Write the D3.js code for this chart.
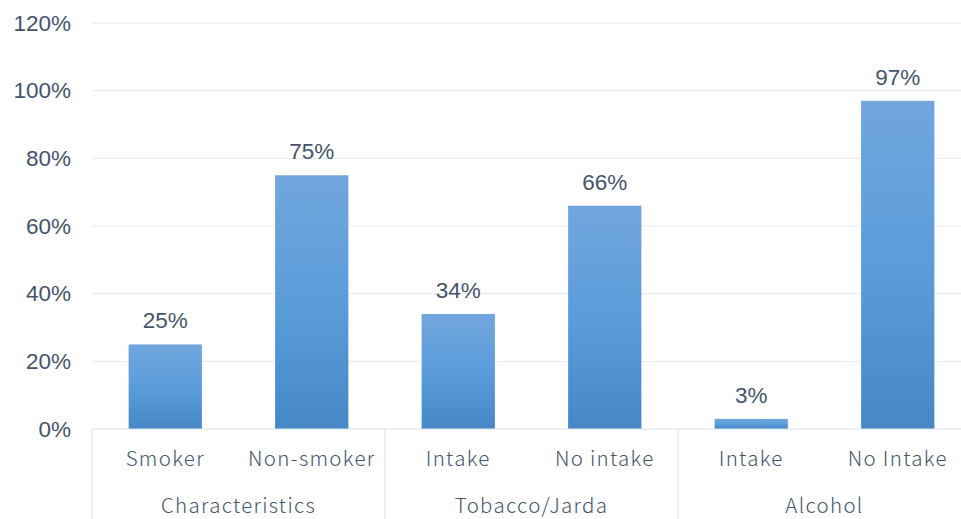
<!DOCTYPE html>
<html>
<head>
<meta charset="utf-8">
<script src="https://cdn.jsdelivr.net/npm/d3@7"></script>
<style>
  body { margin: 0; background: #fff; }
  svg { display: block; }
</style>
</head>
<body>
<div id="chart"></div>
<script>
// chart data
const categories = ["Smoker", "Non-smoker", "Intake", "No intake", "Intake", "No Intake"];
const groups = ["Characteristics", "Tobacco/Jarda", "Alcohol"];
const groupOf = [0, 0, 1, 1, 2, 2];
const values = [25, 75, 34, 66, 3, 97];
const yTicks = [0, 20, 40, 60, 80, 100, 120];

const width = 961, height = 519;
const margin = {top: 23, right: -10, bottom: 90, left: 92};
const innerW = width - margin.left - margin.right;
const innerH = height - margin.top - margin.bottom;

const numFont = "'Liberation Sans', Arial, sans-serif";
const catFont = "'Noto Sans CJK JP', 'Noto Sans', sans-serif";
const textColor = "#44546a";

const svg = d3.select("#chart").append("svg")
    .attr("width", width)
    .attr("height", height);

// bar gradient
const grad = svg.append("defs").append("linearGradient")
    .attr("id", "barGrad")
    .attr("x1", 0).attr("y1", 0).attr("x2", 0).attr("y2", 1);
grad.append("stop").attr("offset", "0%").attr("stop-color", "#71a6dd");
grad.append("stop").attr("offset", "50%").attr("stop-color", "#5b9cdb");
grad.append("stop").attr("offset", "100%").attr("stop-color", "#4687c8");

const g = svg.append("g")
    .attr("transform", `translate(${margin.left},${margin.top})`);

const idx = categories.map((c, i) => i);
const x = d3.scaleBand()
    .domain(idx)
    .range([0, innerW])
    .paddingInner(0.5)
    .paddingOuter(0.25);

const y = d3.scaleLinear()
    .domain([0, 120])
    .range([innerH, 0]);

// gridlines
g.append("g")
    .selectAll("line")
    .data(yTicks.filter(t => t > 0))
    .join("line")
    .attr("x1", 0).attr("x2", innerW)
    .attr("y1", d => y(d)).attr("y2", d => y(d))
    .attr("stroke", "#e6eaee")
    .attr("stroke-width", 1);

// y axis labels
const yAxis = d3.axisLeft(y)
    .tickValues(yTicks)
    .tickFormat(d => d + "%")
    .tickSize(0)
    .tickPadding(21);
g.append("g")
    .call(yAxis)
    .call(s => s.select(".domain").remove())
    .selectAll("text")
    .attr("font-family", numFont)
    .attr("font-size", 22.5)
    .attr("fill", textColor);

// bars
g.selectAll("rect.bar")
    .data(values)
    .join("rect")
    .attr("class", "bar")
    .attr("x", (d, i) => x(i))
    .attr("width", x.bandwidth())
    .attr("y", d => y(d))
    .attr("height", d => innerH - y(d))
    .attr("fill", "url(#barGrad)");

// value labels
g.selectAll("text.val")
    .data(values)
    .join("text")
    .attr("class", "val")
    .attr("x", (d, i) => x(i) + x.bandwidth() / 2)
    .attr("y", d => y(d) - 16)
    .attr("text-anchor", "middle")
    .attr("font-family", numFont)
    .attr("font-size", 22.5)
    .attr("fill", textColor)
    .text(d => d + "%");

// baseline axis
g.append("line")
    .attr("x1", 0).attr("x2", innerW)
    .attr("y1", innerH).attr("y2", innerH)
    .attr("stroke", "#dde2e8");

// category labels
g.selectAll("text.cat")
    .data(categories)
    .join("text")
    .attr("class", "cat")
    .attr("x", (d, i) => x(i) + x.bandwidth() / 2)
    .attr("y", innerH + 37)
    .attr("text-anchor", "middle")
    .attr("font-family", catFont)
    .attr("font-weight", 300)
    .attr("letter-spacing", 1.3)
    .attr("font-size", 20.5)
    .attr("fill", textColor)
    .text(d => d);

// group labels and separators
const groupW = 2 * x.step();

g.selectAll("line.sep")
    .data(groups.concat(["end"]))
    .join("line")
    .attr("class", "sep")
    .attr("x1", (d, j) => j * groupW)
    .attr("x2", (d, j) => j * groupW)
    .attr("y1", innerH)
    .attr("y2", innerH + margin.bottom)
    .attr("stroke", "#dde2e8");

g.selectAll("text.grp")
    .data(groups)
    .join("text")
    .attr("class", "grp")
    .attr("x", (d, j) => j * groupW + groupW / 2)
    .attr("y", innerH + 84)
    .attr("text-anchor", "middle")
    .attr("font-family", catFont)
    .attr("font-weight", 300)
    .attr("letter-spacing", 1.3)
    .attr("font-size", 20.5)
    .attr("fill", textColor)
    .text(d => d);
</script>
</body>
</html>
